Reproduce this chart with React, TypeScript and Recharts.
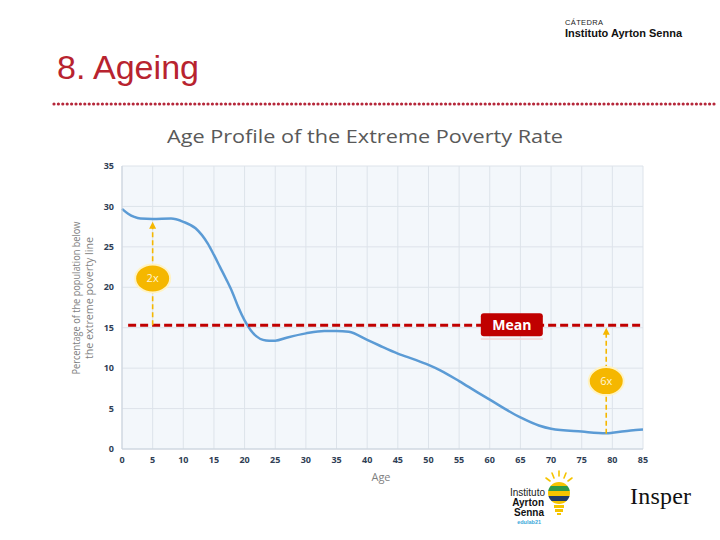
import React from "react";
import {
    LineChart,
    Line,
    XAxis,
    YAxis,
    CartesianGrid,
    ReferenceLine,
    ReferenceDot,
} from "recharts";

// age profile
const ages = [0, 1, 2, 3, 5, 8, 10, 12, 14, 15, 16, 17, 18, 19, 20, 21, 22, 23, 24, 25, 27, 30, 33, 35, 37, 40, 42, 45, 48, 50, 52, 55, 58, 60, 65, 68, 70, 75, 79, 80, 83, 85];
const povertyRate = [29.7, 29.1, 28.7, 28.5, 28.45, 28.5, 28.1, 27.3, 25.4, 24.0, 22.5, 21.0, 19.4, 17.5, 15.9, 14.7, 13.9, 13.5, 13.4, 13.4, 13.8, 14.3, 14.6, 14.6, 14.5, 13.5, 12.8, 11.8, 11.0, 10.4, 9.7, 8.4, 7.0, 6.1, 3.9, 2.9, 2.5, 2.15, 1.95, 2.0, 2.3, 2.4];

const xTicks = [0, 5, 10, 15, 20, 25, 30, 35, 40, 45, 50, 55, 60, 65, 70, 75, 80, 85];
const yTicks = [0, 5, 10, 15, 20, 25, 30, 35];

const meanRate = 15.3;
const meanLabelAge = 63.6;
// [age, from, to, bubble y, label]
const gaps: [number, number, number, number, string][] = [
    [5, meanRate, 28.1, 21.1, "2x"],
    [79, 1.9, meanRate - 0.3, 8.4, "6x"],
];

const data = ages.map((a, i) => ({ age: a, rate: povertyRate[i] }));

const YELLOW = "#f5b700";
const RED = "#c00000";
const tickStyle = { fill: "#2f3e55", fontSize: 9, fontWeight: 700, fontFamily: "Open Sans" };

function Arrow(props: any) {
    const { x1, y1, x2, y2 } = props;
    const dir = y2 < y1 ? 1 : -1;
    return (
        <g>
            <line x1={x1} y1={y1} x2={x2} y2={y2 + dir * 4} stroke={YELLOW} strokeWidth={1.6} strokeDasharray="5 3" />
            <path d={`M${x2 - 3.5},${y2 + dir * 7} L${x2},${y2} L${x2 + 3.5},${y2 + dir * 7} Z`} fill={YELLOW} />
        </g>
    );
}

function Bubble(label: string) {
    return (props: any) => {
        const { cx, cy } = props;
        return (
            <g>
                <ellipse cx={cx} cy={cy} rx={17.5} ry={14} fill={YELLOW} stroke="#fff3c4" strokeWidth={2} />
                <text x={cx} y={cy + 4} textAnchor="middle" fill="#fff6d8" fontSize={11} fontFamily="Open Sans">
                    {label}
                </text>
            </g>
        );
    };
}

function MeanTag(props: any) {
    const { cx, cy } = props;
    return (
        <g>
            <rect x={cx - 31} y={cy + 13} width={62} height={1.5} fill="#f2d6d6" />
            <rect x={cx - 31} y={cy - 12} width={62} height={23} rx={3} fill={RED} />
            <text x={cx} y={cy + 5} textAnchor="middle" fill="#fff" fontSize={14} fontWeight={700} fontFamily="Open Sans">
                Mean
            </text>
        </g>
    );
}

function Header() {
    return (
        <svg width={720} height={540} style={{ position: "absolute", left: 0, top: 0, pointerEvents: "none" }}>
            <text x={565} y={25} fontSize={7.5} fontFamily="Liberation Sans" fill="#222" textLength={38}>CÁTEDRA</text>
            <text x={565} y={37} fontSize={11} fontWeight={700} fontFamily="Liberation Sans" fill="#111" textLength={117} lengthAdjust="spacingAndGlyphs">
                Instituto Ayrton Senna
            </text>
            <text x={57} y={79} fontSize={33} fontFamily="Liberation Sans" fill="#b8232f" textLength={142} lengthAdjust="spacingAndGlyphs">8. Ageing</text>
            <line x1={54} y1={104} x2={718} y2={104} stroke="#b5273a" strokeWidth={3.2} strokeDasharray="0 4.4" strokeLinecap="round" />
            <text x={365} y={143} textAnchor="middle" fontSize={19} fontFamily="Open Sans" fill="#595959" textLength={396} lengthAdjust="spacingAndGlyphs">
                Age Profile of the Extreme Poverty Rate
            </text>
            <g transform="translate(82,298) rotate(-90)" fill="#7f7f7f" fontFamily="Open Sans" fontSize={11.5}>
                <text x={0} y={-2} textAnchor="middle" textLength={153} lengthAdjust="spacingAndGlyphs">Percentage of the population below</text>
                <text x={0} y={11} textAnchor="middle" textLength={122} lengthAdjust="spacingAndGlyphs">the extreme poverty line</text>
            </g>
            <text x={381} y={481} textAnchor="middle" fontSize={11} fontFamily="Open Sans" fill="#7f7f7f">Age</text>

            {/* Instituto Ayrton Senna logo */}
            <g fontFamily="Liberation Sans" textAnchor="end">
                <text x={545} y={496} fontSize={10} fill="#222">Instituto</text>
                <text x={544} y={506} fontSize={10} fontWeight={700} fill="#111">Ayrton</text>
                <text x={544} y={516} fontSize={10} fontWeight={700} fill="#111">Senna</text>
                <text x={541} y={524} fontSize={5.5} fontWeight={700} fill="#3aa7d9">edulab21</text>
            </g>
            <g stroke="#f5c400" strokeWidth={1.6} strokeLinecap="round">
                <line x1={559} y1={471} x2={559} y2={476} />
                <line x1={552} y1={473} x2={554} y2={478} />
                <line x1={566} y1={473} x2={564} y2={478} />
                <line x1={546} y1={478} x2={550} y2={481} />
                <line x1={572} y1={478} x2={568} y2={481} />
            </g>
            <clipPath id="bulb"><circle cx={559} cy={493} r={11} /></clipPath>
            <g clipPath="url(#bulb)">
                <rect x={547} y={481} width={24} height={5} fill="#f5c400" />
                <rect x={547} y={486} width={24} height={5} fill="#2e9a46" />
                <rect x={547} y={491} width={24} height={5} fill="#f5c400" />
                <rect x={547} y={496} width={24} height={5} fill="#1f3a68" />
                <rect x={547} y={501} width={24} height={5} fill="#f5c400" />
            </g>
            <rect x={554} y={505} width={10} height={3} fill="#f5c400" />
            <rect x={555} y={509} width={8} height={3} fill="#f5c400" />
            <rect x={557} y={513} width={4} height={2} fill="#f5c400" />

            <text x={630} y={504} fontSize={24} fontFamily="Liberation Serif" fill="#111" textLength={61}>Insper</text>
        </svg>
    );
}

export default function App() {
    return (
        <div style={{ position: "absolute", left: 0, top: 0, width: 720, height: 540, background: "#fff" }}>
            <LineChart
                width={720}
                height={540}
                data={data}
                margin={{ top: 166, right: 77, bottom: 71, left: 97 }}
            >
                <CartesianGrid fill="#f3f7fb" stroke="#dde3ea" strokeWidth={1} />
                <XAxis
                    dataKey="age"
                    type="number"
                    domain={[0, 85]}
                    ticks={xTicks}
                    height={20}
                    tick={tickStyle}
                    tickLine={false}
                    axisLine={{ stroke: "#c9d2dc" }}
                    interval={0}
                />
                <YAxis
                    type="number"
                    domain={[0, 35]}
                    ticks={yTicks}
                    width={25}
                    tick={tickStyle}
                    tickLine={false}
                    axisLine={{ stroke: "#c9d2dc" }}
                    interval={0}
                />
                <Line
                    type="monotone"
                    dataKey="rate"
                    stroke="#5b9bd5"
                    strokeWidth={2.5}
                    dot={false}
                    isAnimationActive={false}
                />
                <ReferenceLine
                    segment={[{ x: 1, y: meanRate }, { x: 85, y: meanRate }]}
                    stroke={RED}
                    strokeWidth={3}
                    strokeDasharray="8 4"
                />
                {gaps.map(([a, from, to]) => (
                    <ReferenceLine
                        key={`arrow-${a}`}
                        segment={[{ x: a, y: from }, { x: a, y: to }]}
                        shape={Arrow}
                    />
                ))}
                {gaps.map(([a, , , by, label]) => (
                    <ReferenceDot key={`bubble-${a}`} x={a} y={by} shape={Bubble(label)} />
                ))}
                <ReferenceDot x={meanLabelAge} y={meanRate} shape={MeanTag} />
            </LineChart>
            <Header />
        </div>
    );
}
